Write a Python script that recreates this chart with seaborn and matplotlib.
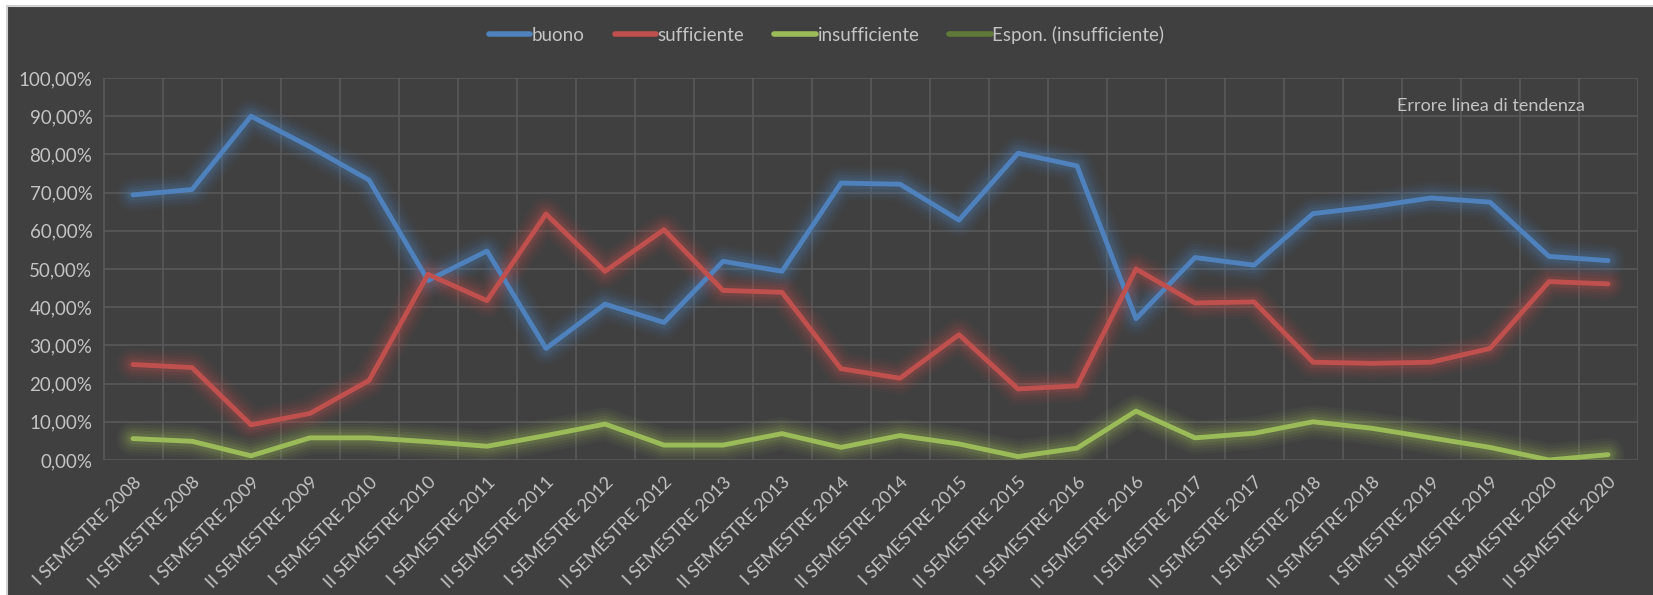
import pandas as pd
import numpy as np
import matplotlib.pyplot as plt
import seaborn as sns
from matplotlib.lines import Line2D
from matplotlib.patches import Rectangle
from matplotlib.ticker import FuncFormatter

# semesters
periods = []
for year in range(2008, 2021):
    periods.append("I SEMESTRE %d" % year)
    periods.append("II SEMESTRE %d" % year)

buono = [69.4, 70.8, 90.0, 82.0, 73.3, 47.0, 54.7, 29.2, 40.8, 36.0, 52.0, 49.4, 72.5,
         72.2, 62.8, 80.3, 77.0, 37.0, 53.0, 51.0, 64.5, 66.3, 68.6, 67.5, 53.3, 52.2]
sufficiente = [25.0, 24.2, 9.2, 12.2, 20.8, 48.6, 41.7, 64.4, 49.4, 60.3, 44.4, 43.9, 23.9,
               21.4, 32.8, 18.6, 19.4, 50.0, 41.1, 41.4, 25.6, 25.3, 25.6, 29.2, 46.7, 46.1]
insufficiente = [5.6, 4.9, 1.1, 5.8, 5.8, 4.8, 3.6, 6.4, 9.4, 3.9, 3.9, 6.9, 3.3,
                 6.4, 4.2, 0.9, 3.1, 12.8, 5.8, 7.0, 10.0, 8.3, 5.8, 3.3, 0.0, 1.4]

series = {"buono": buono, "sufficiente": sufficiente, "insufficiente": insufficiente}
colors = {"buono": "#4F81BD", "sufficiente": "#C0504D", "insufficiente": "#9BBB59"}
trend_color = "#5F7A38"

df = pd.DataFrame({"periodo": periods, **series})
long = df.melt(id_vars="periodo", var_name="serie", value_name="valore")
long["x"] = long["periodo"].map({p: i for i, p in enumerate(periods)})

bg = "#404040"
txt = "#C4C4C4"
sns.set_style("dark")
plt.rcParams["font.family"] = ["Lato", "DejaVu Sans"]

fig = plt.figure(figsize=(16.53, 5.95), dpi=100, facecolor="white")
fig.patches.append(Rectangle((7 / 1653, -0.05), 1.2, 1 - 6 / 595 + 0.05,
                             transform=fig.transFigure, facecolor=bg,
                             edgecolor="#D0D0D0", linewidth=1.5, zorder=-5))

ax = fig.add_axes([103.5 / 1653, 1 - 460 / 595, (1637.5 - 103.5) / 1653, (460 - 78) / 595])
ax.set_zorder(2)
ax.set_facecolor(bg)

# soft glow behind each line
for name in series:
    for lw, a in [(24, 0.05), (20, 0.06), (16, 0.08), (12, 0.11), (8, 0.15)]:
        ax.plot(df.index, df[name], color=colors[name], lw=lw, alpha=a,
                solid_joinstyle="round", solid_capstyle="round", zorder=2)

sns.lineplot(data=long, x="x", y="valore", hue="serie", palette=colors,
             linewidth=3.5, ax=ax, legend=False, zorder=3)

ax.set_xlim(-0.5, len(periods) - 0.5)
ax.set_ylim(0, 100)
ax.set_yticks(np.arange(0, 101, 10))
ax.yaxis.set_major_formatter(FuncFormatter(lambda v, p: ("%.2f%%" % v).replace(".", ",")))
ax.set_xticks(np.arange(len(periods)))
ax.set_xticklabels(periods, rotation=45, ha="right", rotation_mode="anchor")
ax.set_xticks(np.arange(-0.5, len(periods)), minor=True)
ax.grid(True, which="minor", axis="x", color="#595959", lw=1.2)
ax.grid(True, which="major", axis="y", color="#595959", lw=1.2)
ax.grid(False, which="major", axis="x")
ax.tick_params(axis="both", which="both", length=0, colors=txt)
ax.tick_params(axis="x", pad=10, labelsize=13)
ax.tick_params(axis="y", pad=8, labelsize=13.5)
for s in ax.spines.values():
    s.set_visible(False)
ax.set_xlabel("")
ax.set_ylabel("")

ax.text(0.843, 0.928, "Errore linea di tendenza", transform=ax.transAxes,
        color=txt, fontsize=13, va="center", ha="left")

handles = [Line2D([0], [0], color=colors[n], lw=4, solid_capstyle="round") for n in series]
handles.append(Line2D([0], [0], color=trend_color, lw=4, solid_capstyle="round"))
labels = list(series) + ["Espon. (insufficiente)"]
fig.legend(handles, labels, loc="center", bbox_to_anchor=(0.5, 1 - 35 / 595), ncol=4,
           frameon=False, fontsize=13.5, labelcolor=txt, handlelength=2.2,
           handletextpad=0.1, columnspacing=1.6)

fig.savefig("out.png", dpi=100, facecolor="white")
